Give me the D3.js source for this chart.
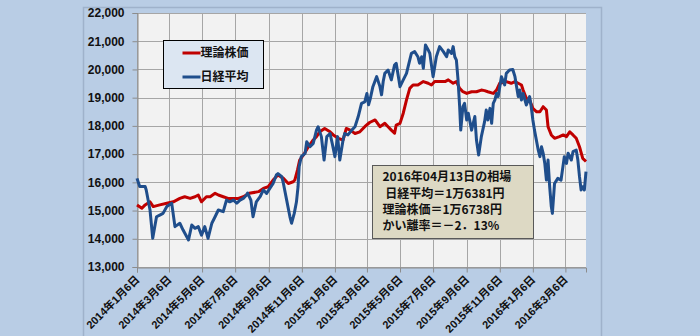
<!DOCTYPE html>
<html>
<head>
<meta charset="utf-8">
<script src="https://cdn.jsdelivr.net/npm/d3@7"></script>
<style>
  body { margin: 0; background: #b9cde5; }
  svg { display: block; }
  text { font-family: "Liberation Sans", "Noto Sans CJK JP", sans-serif; font-weight: bold; fill: #111; }
</style>
</head>
<body>
<svg width="700" height="336"></svg>
<script>
// 日経平均 (date, value)
var nikkei = [
  ["2014-01-06",16140],["2014-01-11",15850],["2014-01-21",15850],["2014-01-23",15730],["2014-01-30",15020],
  ["2014-02-04",14016],["2014-02-11",14780],["2014-02-17",14840],["2014-02-23",14900],["2014-03-02",15140],
  ["2014-03-11",15260],["2014-03-17",14430],["2014-03-26",14550],["2014-04-01",14310],["2014-04-11",13960],
  ["2014-04-17",14490],["2014-04-23",14370],["2014-04-29",14430],["2014-05-05",14130],["2014-05-11",14430],
  ["2014-05-17",14015],["2014-05-24",14550],["2014-05-30",14780],["2014-06-05",15020],["2014-06-14",14960],
  ["2014-06-20",15370],["2014-06-26",15310],["2014-07-03",15370],["2014-07-09",15260],["2014-07-15",15370],
  ["2014-07-21",15430],["2014-07-27",15550],["2014-07-29",15620],["2014-08-04",15370],["2014-08-08",14780],
  ["2014-08-14",15310],["2014-08-21",15490],["2014-08-27",15730],["2014-09-02",15610],["2014-09-08",15785],
  ["2014-09-14",15960],["2014-09-20",16260],["2014-09-23",16310],["2014-09-30",16200],["2014-10-03",15960],
  ["2014-10-09",15370],["2014-10-15",14780],["2014-10-18",14550],["2014-10-23",14900],["2014-10-27",15300],
  ["2014-10-30",15845],["2014-11-01",16550],["2014-11-05",16910],["2014-11-12",17030],["2014-11-15",17440],
  ["2014-11-21",17260],["2014-11-27",17380],["2014-12-03",17850],["2014-12-06",17970],["2014-12-12",17620],
  ["2014-12-17",16790],["2014-12-22",17620],["2014-12-28",17730],["2015-01-01",17380],["2015-01-06",16910],
  ["2015-01-11",17620],["2015-01-15",16790],["2015-01-21",17500],["2015-01-24",17730],["2015-01-30",17680],
  ["2015-02-06",17850],["2015-02-12",17970],["2015-02-18",18330],["2015-02-24",18800],["2015-03-02",18850],
  ["2015-03-06",19150],["2015-03-09",18750],["2015-03-12",18950],["2015-03-17",19390],["2015-03-24",19745],
  ["2015-03-30",19390],["2015-04-02",19100],["2015-04-05",19570],["2015-04-08",19860],["2015-04-14",19980],
  ["2015-04-20",19630],["2015-04-26",20160],["2015-04-29",20220],["2015-05-06",19390],["2015-05-12",19630],
  ["2015-05-18",19860],["2015-05-21",20100],["2015-05-27",20570],["2015-06-02",20630],["2015-06-08",20450],
  ["2015-06-11",20220],["2015-06-15",20450],["2015-06-18",20040],["2015-06-22",20870],["2015-06-27",20690],
  ["2015-06-30",20570],["2015-07-06",19745],["2015-07-12",20450],["2015-07-18",20810],["2015-07-25",20630],
  ["2015-07-31",20450],["2015-08-03",20690],["2015-08-09",20570],["2015-08-12",20810],["2015-08-15",20450],
  ["2015-08-18",20330],["2015-08-21",19630],["2015-08-24",18680],["2015-08-26",17850],["2015-08-30",18680],
  ["2015-09-02",18800],["2015-09-06",18210],["2015-09-09",18450],["2015-09-15",17850],["2015-09-21",18330],
  ["2015-09-24",17500],["2015-09-28",16970],["2015-10-03",17620],["2015-10-09",18150],["2015-10-12",18560],
  ["2015-10-15",18210],["2015-10-19",18620],["2015-10-22",18090],["2015-10-25",18800],["2015-10-28",18920],
  ["2015-10-31",19150],["2015-11-03",19040],["2015-11-06",19390],["2015-11-09",19745],["2015-11-15",19450],
  ["2015-11-18",19860],["2015-11-24",19980],["2015-11-30",20000],["2015-12-04",19745],["2015-12-07",19390],
  ["2015-12-10",19040],["2015-12-13",19270],["2015-12-16",18920],["2015-12-19",19150],["2015-12-25",18740],
  ["2015-12-31",19040],["2016-01-03",18680],["2016-01-06",18210],["2016-01-09",17850],["2016-01-16",17140],
  ["2016-01-19",16910],["2016-01-22",17260],["2016-01-25",17030],["2016-01-28",16670],["2016-01-31",16080],
  ["2016-02-03",16790],["2016-02-06",15845],["2016-02-09",15140],["2016-02-11",14900],["2016-02-15",15960],
  ["2016-02-21",16140],["2016-02-27",16080],["2016-03-04",16910],["2016-03-08",16670],["2016-03-11",17030],
  ["2016-03-17",16790],["2016-03-20",17085],["2016-03-26",17140],["2016-03-29",16790],["2016-04-01",16200],
  ["2016-04-04",15730],["2016-04-07",15845],["2016-04-10",15730],["2016-04-13",16381]
];

// 理論株価 (date, value)
var riron = [
  ["2014-01-06",15200],["2014-01-15",15080],["2014-01-21",15200],["2014-01-30",15310],["2014-02-05",15140],
  ["2014-02-17",15200],["2014-03-02",15260],["2014-03-14",15310],["2014-03-26",15430],["2014-04-04",15490],
  ["2014-04-14",15430],["2014-04-23",15490],["2014-04-29",15550],["2014-05-05",15310],["2014-05-14",15490],
  ["2014-05-21",15490],["2014-05-30",15610],["2014-06-05",15550],["2014-06-14",15490],["2014-06-23",15430],
  ["2014-07-03",15430],["2014-07-12",15430],["2014-07-21",15490],["2014-08-01",15610],["2014-08-18",15670],
  ["2014-08-27",15785],["2014-09-05",15845],["2014-09-14",16080],["2014-09-23",16260],["2014-10-03",16140],
  ["2014-10-12",15960],["2014-10-21",16020],["2014-10-24",16080],["2014-10-29",16440],["2014-11-02",16790],
  ["2014-11-09",16970],["2014-11-18",17260],["2014-11-27",17500],["2014-12-03",17620],["2014-12-09",17790],
  ["2014-12-18",17910],["2014-12-28",17790],["2015-01-03",17680],["2015-01-12",17560],["2015-01-21",17500],
  ["2015-01-27",17910],["2015-02-03",17850],["2015-02-12",17730],["2015-02-21",17790],["2015-03-02",17970],
  ["2015-03-11",18120],["2015-03-21",18210],["2015-03-30",17970],["2015-04-08",18090],["2015-04-14",17970],
  ["2015-04-20",17850],["2015-04-26",17740],["2015-04-29",18030],["2015-05-06",18090],["2015-05-12",18450],
  ["2015-05-18",18920],["2015-05-24",19330],["2015-05-30",19450],["2015-06-08",19450],["2015-06-18",19570],
  ["2015-06-27",19510],["2015-07-03",19450],["2015-07-09",19570],["2015-07-18",19570],["2015-07-28",19570],
  ["2015-08-03",19630],["2015-08-12",19510],["2015-08-18",19570],["2015-08-24",19330],["2015-08-30",19210],
  ["2015-09-06",19150],["2015-09-15",19210],["2015-09-24",19210],["2015-10-03",19270],["2015-10-09",19250],
  ["2015-10-15",19210],["2015-10-25",19150],["2015-10-31",19270],["2015-11-06",19510],["2015-11-18",19570],
  ["2015-11-27",19510],["2015-12-04",19570],["2015-12-10",19510],["2015-12-16",19450],["2015-12-19",19270],
  ["2015-12-25",18980],["2015-12-31",18920],["2016-01-06",18620],["2016-01-13",18500],["2016-01-19",18500],
  ["2016-01-25",18680],["2016-01-31",18560],["2016-02-03",17970],["2016-02-09",17680],["2016-02-15",17560],
  ["2016-02-24",17620],["2016-03-02",17680],["2016-03-08",17620],["2016-03-14",17790],["2016-03-20",17680],
  ["2016-03-26",17560],["2016-04-01",17260],["2016-04-07",16850],["2016-04-13",16738]
];

var tickDates = ["2014-01-06","2014-03-06","2014-05-06","2014-07-06","2014-09-06","2014-11-06",
  "2015-01-06","2015-03-06","2015-05-06","2015-07-06","2015-09-06","2015-11-06",
  "2016-01-06","2016-03-06"];
var yTicks = [13000,14000,15000,16000,17000,18000,19000,20000,21000,22000];
var seriesNames = ["理論株価", "日経平均"];
var seriesColors = ["#c00000", "#1f4e8c"];
var noteLines = ["2016年04月13日の相場", " 日経平均＝1万6381円", "理論株価＝1万6738円", "かい離率＝－2．13%"];

var parse = d3.timeParse("%Y-%m-%d");
var margin = {l: 137, t: 13, r: 586, b: 267};

var svg = d3.select("svg");

// outer frame
svg.append("rect")
  .attr("x", 83.5).attr("y", 7.5)
  .attr("width", 518).attr("height", 340)
  .attr("fill", "#b9cde5")
  .attr("stroke", "#9fb2cb")
  .attr("stroke-width", 1.5);

var x = d3.scaleTime()
  .domain([parse("2014-01-06"), parse("2016-04-13")])
  .range([margin.l, margin.r]);
var y = d3.scaleLinear()
  .domain([13000, 22000])
  .range([margin.b, margin.t]);

// plot area
svg.append("rect")
  .attr("x", margin.l).attr("y", margin.t)
  .attr("width", margin.r - margin.l).attr("height", margin.b - margin.t)
  .attr("fill", "#f2f2f2");

// grid
var grid = svg.append("g").attr("class", "grid");
grid.selectAll(".hg").data(yTicks).enter().append("line")
  .attr("x1", margin.l).attr("x2", margin.r)
  .attr("y1", function (d) { return Math.round(y(d)) + 0.5; })
  .attr("y2", function (d) { return Math.round(y(d)) + 0.5; })
  .style("stroke", "#a6a6a6");
grid.selectAll(".vg").data(tickDates).enter().append("line")
  .attr("x1", function (d) { return Math.round(x(parse(d))) + 0.5; })
  .attr("x2", function (d) { return Math.round(x(parse(d))) + 0.5; })
  .attr("y1", margin.t).attr("y2", margin.b)
  .style("stroke", "#a6a6a6");

// y axis
var yAxis = svg.append("g")
  .attr("transform", "translate(" + (margin.l + 0.5) + ",0)")
  .call(d3.axisLeft(y).tickValues(yTicks).tickFormat(d3.format(",")).tickSize(5).tickPadding(8));
yAxis.select(".domain").style("stroke", "#8c8c8c");
yAxis.selectAll(".tick line").style("stroke", "#8c8c8c");
yAxis.selectAll("text").style("font-size", "12px").style("font-family", "Liberation Sans, Arial, sans-serif").attr("fill", "#111");

// x axis
var xAxis = svg.append("g")
  .attr("transform", "translate(0," + (margin.b + 0.5) + ")")
  .call(d3.axisBottom(x).tickValues(tickDates.map(parse)).tickSize(5)
    .tickFormat(function (d) { return d.getFullYear() + "年" + (d.getMonth() + 1) + "月" + d.getDate() + "日"; }));
xAxis.select(".domain").style("stroke", "#8c8c8c");
xAxis.selectAll(".tick line").style("stroke", "#8c8c8c");
xAxis.selectAll("text")
  .style("font-size", "11px")
  .attr("fill", "#111")
  .attr("text-anchor", "end")
  .attr("dy", "0.35em")
  .attr("transform", "translate(0,10) rotate(-45)")
  .attr("y", 0);

// lines
var line = d3.line()
  .x(function (d) { return x(parse(d[0])); })
  .y(function (d) { return y(d[1]); });
[riron, nikkei].forEach(function (s, i) {
  svg.append("path")
    .datum(s)
    .attr("d", line)
    .attr("fill", "none")
    .attr("stroke", seriesColors[i])
    .attr("stroke-width", 3)
    .attr("stroke-linejoin", "round");
});

// legend
var lg = svg.append("g").attr("transform", "translate(163.5,40.5)");
lg.append("rect").attr("width", 100).attr("height", 48)
  .attr("fill", "#dce6f2").attr("stroke", "#000").attr("stroke-width", 1);
seriesNames.forEach(function (n, i) {
  lg.append("line")
    .attr("x1", 19).attr("x2", 37)
    .attr("y1", 12.5 + i * 24).attr("y2", 12.5 + i * 24)
    .attr("stroke", seriesColors[i]).attr("stroke-width", 3);
  lg.append("text")
    .attr("x", 37).attr("y", 12.5 + i * 24)
    .attr("dy", "0.35em")
    .style("font-size", "12px")
    .text(n);
});

// note box
var nb = svg.append("g").attr("transform", "translate(372.5,165.5)");
nb.append("rect").attr("width", 161).attr("height", 73)
  .attr("fill", "#ddd9c4").attr("stroke", "#595959").attr("stroke-width", 1);
nb.selectAll("text").data(noteLines).enter().append("text")
  .attr("x", 10)
  .attr("y", function (d, i) { return 11.5 + i * 16.3; })
  .attr("dy", "0.35em")
  .attr("xml:space", "preserve")
  .style("white-space", "pre")
  .style("font-size", "12px")
  .style("font-family", "Noto Sans CJK JP, sans-serif")
  .text(function (d) { return d; });
</script>
</body>
</html>
